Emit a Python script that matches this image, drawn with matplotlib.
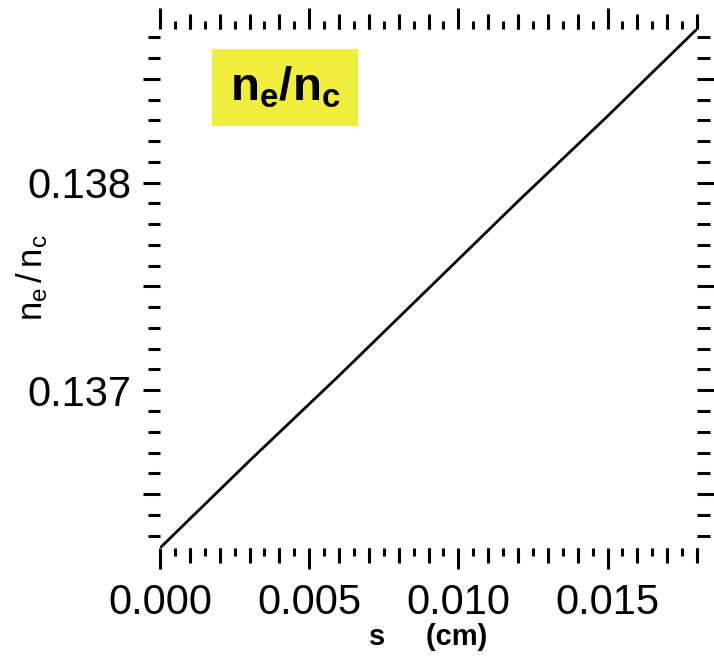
import matplotlib

matplotlib.use("Agg")

import matplotlib.pyplot as plt
from matplotlib.patches import Rectangle
from matplotlib.ticker import FuncFormatter, MultipleLocator, FixedLocator

# path length s (cm) and density ratio ne/nc
S_CM = [0.0, 0.003, 0.006, 0.009, 0.012, 0.015, 0.018]
NE_NC = [0.13624, 0.13666, 0.13707, 0.13749, 0.13791, 0.13832, 0.13874]

X_LIM = (0.0, 0.018)
Y_LIM = (0.13624, 0.13874)
X_MEDIUM_TICKS = [0.001, 0.002, 0.003, 0.004, 0.006, 0.007, 0.008, 0.009,
                  0.011, 0.012, 0.013, 0.014, 0.016, 0.017, 0.018]
BOX_COLOR = "#f0ee3c"

plt.rcParams.update(
    {
        "font.family": ["Liberation Sans", "DejaVu Sans"],
        "mathtext.fontset": "custom",
        "mathtext.rm": "Liberation Sans",
        "mathtext.it": "Liberation Sans",
        "mathtext.bf": "Liberation Sans:bold",
    }
)

fig = plt.figure(figsize=(7.14, 6.58), dpi=100)
ax = fig.add_axes([160 / 714, 1 - 548 / 658, 537 / 714, 519 / 658])

ax.plot(S_CM, NE_NC, color="black", linewidth=2.0, solid_capstyle="butt")
ax.set_xlim(*X_LIM)
ax.set_ylim(*Y_LIM)

for spine in ax.spines.values():
    spine.set_visible(False)

# x: labelled majors every 0.005, short minors every 0.0005
ax.xaxis.set_major_locator(MultipleLocator(0.005))
ax.xaxis.set_minor_locator(MultipleLocator(0.0005))
ax.xaxis.set_major_formatter(FuncFormatter(lambda v, _: f"{v:.3f}"))

# y: long ticks every 0.0005, labels only on 0.001, short every 0.0001
ax.yaxis.set_major_locator(MultipleLocator(0.0005))
ax.yaxis.set_minor_locator(MultipleLocator(0.0001))


def _ylabel_fmt(v, _):
    if abs(round(v * 1000) - v * 1000) < 1e-6:
        return f"{v:.3f}"
    return ""


ax.yaxis.set_major_formatter(FuncFormatter(_ylabel_fmt))

ax.tick_params(axis="both", which="both", direction="out", color="black",
               width=2.2, top=True, right=True, labelsize=30)
ax.tick_params(axis="x", which="major", length=15, pad=10)
ax.tick_params(axis="x", which="minor", length=6)
ax.tick_params(axis="y", which="major", length=12.5, pad=8)
ax.tick_params(axis="y", which="minor", length=9)

# medium-length x ticks at every 0.001 on bottom and top
for loc in ("bottom", "top"):
    sec = ax.secondary_xaxis(loc)
    sec.xaxis.set_major_locator(FixedLocator(X_MEDIUM_TICKS))
    sec.tick_params(axis="x", which="major", direction="out", length=10.5,
                    width=2.2, labelbottom=False, labeltop=False)
    for spine in sec.spines.values():
        spine.set_visible(False)

ax.set_xlabel("s     (cm)", fontsize=21, fontweight="bold", labelpad=0)
ax.set_ylabel(r"$\mathrm{n_e\,/\,n_c}$", fontsize=25)
ax.yaxis.set_label_coords(-0.205, 0.52)

ax.add_patch(Rectangle((0.097, 0.813), 0.272, 0.148, transform=ax.transAxes,
                       facecolor=BOX_COLOR, edgecolor="none", zorder=3))
ax.text(0.233, 0.887, r"$\mathbf{n_e/n_c}$", transform=ax.transAxes,
        ha="center", va="center", fontsize=34, zorder=4)

fig.savefig("out.png", dpi=100, facecolor="white")
